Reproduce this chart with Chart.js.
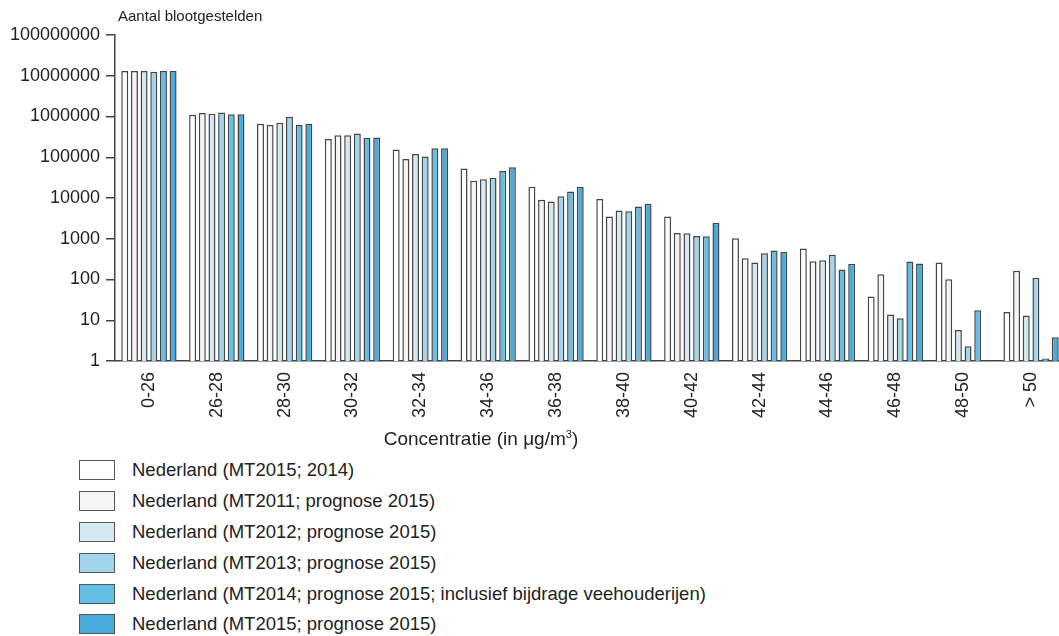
<!DOCTYPE html>
<html>
<head>
<meta charset="utf-8">
<script src="https://cdn.jsdelivr.net/npm/chart.js@4.4.0/dist/chart.umd.min.js"></script>
<style>
    body { margin: 0; background: #ffffff; font-family: "Liberation Sans", Arial, sans-serif; color: #222; }
    #wrap { position: relative; width: 1059px; height: 636px; overflow: hidden; }
    #chart { position: absolute; left: 0; top: 0; }
    #y-title { position: absolute; left: 118px; top: 7px; font-size: 15px; }
    #x-title { position: absolute; left: 0; width: 962px; top: 428px; text-align: center; font-size: 19px; }
    #legend { position: absolute; left: 79px; top: 455px; }
    .row { height: 30.8px; display: flex; align-items: center; }
    .swatch { width: 34px; height: 18px; border: 1.5px solid #555; margin-right: 17px; box-sizing: content-box; }
    .label { font-size: 18.5px; }
</style>
</head>
<body>
<div id="wrap">
    <canvas id="chart" width="1065" height="455"></canvas>
    <div id="y-title">Aantal blootgestelden</div>
    <div id="x-title">Concentratie (in μg/m<sup style="font-size:11px">3</sup>)</div>
    <div id="legend"></div>
</div>
<script>
// Concentration classes (µg/m3)
const categories = ['0-26', '26-28', '28-30', '30-32', '32-34', '34-36', '36-38', '38-40', '40-42', '42-44', '44-46', '46-48', '48-50', '> 50'];

// Number of exposed people per class, one array per series
const mt2015Jaar2014 = [13000000, 1110000, 660000, 280000, 155000, 53000, 19000, 9400, 3500, 1030, 580, 38, 260, 16];
const mt2011Prognose = [13000000, 1220000, 620000, 345000, 91000, 26500, 9000, 3500, 1380, 330, 280, 135, 102, 165];
const mt2012Prognose = [13000000, 1170000, 700000, 345000, 121000, 29000, 8200, 4900, 1360, 260, 295, 13.8, 5.8, 13];
const mt2013Prognose = [12600000, 1260000, 980000, 385000, 104000, 31500, 11000, 4700, 1170, 440, 405, 11.2, 2.3, 110];
const mt2014Prognose = [13000000, 1130000, 620000, 295000, 167000, 46000, 14400, 6200, 1150, 515, 175, 275, 17.7, 1.15];
const mt2015Prognose = [13000000, 1130000, 650000, 307000, 167000, 57000, 19000, 7200, 2480, 475, 245, 246, null, 3.8];

const seriesLabels = [
    'Nederland (MT2015; 2014)',
    'Nederland (MT2011; prognose 2015)',
    'Nederland (MT2012; prognose 2015)',
    'Nederland (MT2013; prognose 2015)',
    'Nederland (MT2014; prognose 2015; inclusief bijdrage veehouderijen)',
    'Nederland (MT2015; prognose 2015)'
];
const seriesData = [mt2015Jaar2014, mt2011Prognose, mt2012Prognose, mt2013Prognose, mt2014Prognose, mt2015Prognose];
const seriesColors = ['#ffffff', '#f3f5f6', '#d5e9f2', '#a2d5eb', '#64bee5', '#48abdb'];

// Y axis ticks (powers of ten)
const yTicks = [1, 10, 100, 1000, 10000, 100000, 1000000, 10000000, 100000000];

const datasets = seriesData.map((data, i) => ({
    label: seriesLabels[i],
    data: data,
    backgroundColor: seriesColors[i],
    borderColor: '#454545',
    borderWidth: 1.5,
    categoryPercentage: 0.855,
    barPercentage: 0.72
}));

new Chart(document.getElementById('chart'), {
    type: 'bar',
    data: { labels: categories, datasets: datasets },
    options: {
        responsive: false,
        animation: false,
        layout: { padding: { top: 35, right: 0, left: 0, bottom: 0 } },
        plugins: { legend: { display: false }, tooltip: { enabled: false } },
        scales: {
            x: {
                grid: { display: true, drawOnChartArea: false, drawTicks: false },
                border: { display: true, color: '#444', width: 1.5 },
                ticks: {
                    minRotation: 90,
                    maxRotation: 90,
                    autoSkip: false,
                    padding: 11,
                    color: '#222',
                    font: { family: 'Liberation Sans', size: 18 }
                },
                afterFit: scale => { scale.height = 94; }
            },
            y: {
                type: 'logarithmic',
                min: 1,
                max: 100000000,
                grid: { drawOnChartArea: false, drawTicks: true, tickLength: 9, color: '#444', lineWidth: 1.5 },
                border: { display: true, color: '#444', width: 1.5 },
                ticks: {
                    padding: 6,
                    color: '#222',
                    font: { family: 'Liberation Sans', size: 18 },
                    callback: value => String(value)
                },
                afterBuildTicks: scale => { scale.ticks = yTicks.map(v => ({ value: v })); },
                afterFit: scale => { scale.width = 115; }
            }
        }
    }
});

// Legend, one row per series
const legend = document.getElementById('legend');
seriesLabels.forEach((label, i) => {
    const row = document.createElement('div');
    row.className = 'row';
    const box = document.createElement('div');
    box.className = 'swatch';
    box.style.background = seriesColors[i];
    const text = document.createElement('div');
    text.className = 'label';
    text.textContent = label;
    row.appendChild(box);
    row.appendChild(text);
    legend.appendChild(row);
});
</script>
</body>
</html>
